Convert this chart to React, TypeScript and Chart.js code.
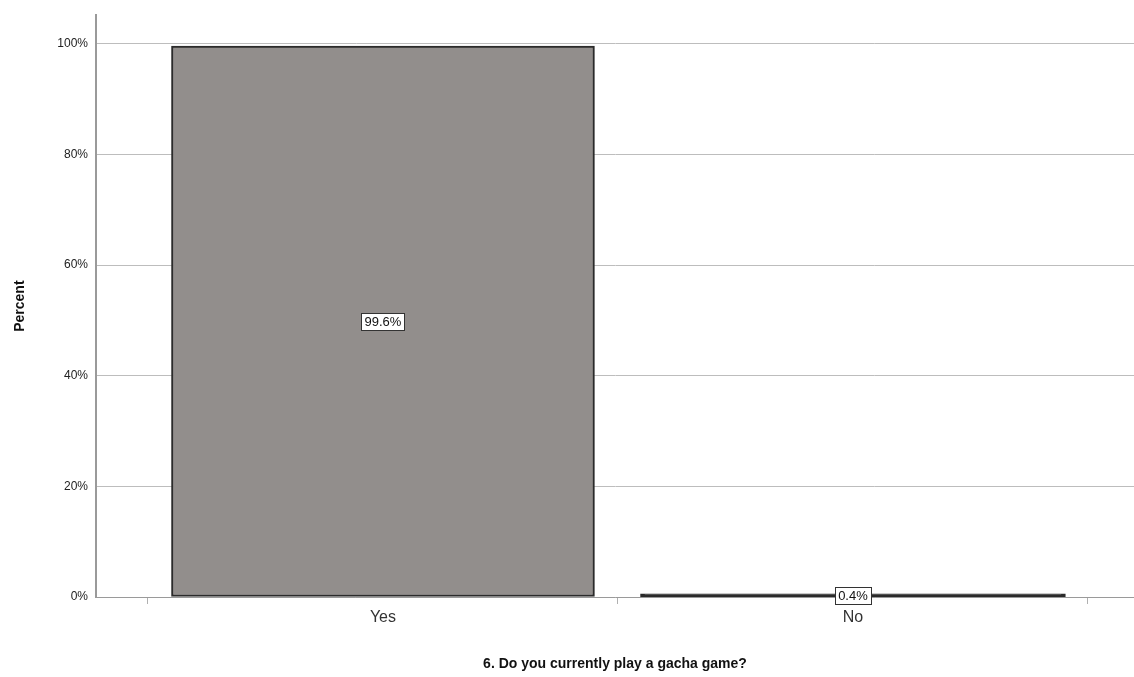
import React, { useEffect, useRef } from "react";
import { Chart, registerables } from "chart.js";

Chart.register(...registerables);

const categories = ["Yes", "No"];
const percentValues = [99.6, 0.4];
const yTickValues = [0, 20, 40, 60, 80, 100];
const xTitle = "6. Do you currently play a gacha game?";
const yTitle = "Percent";

const labelBoxPlugin = {
  id: "labelBoxes",
  afterDatasetsDraw(chart: any) {
    const ctx = chart.ctx;
    const meta = chart.getDatasetMeta(0);
    ctx.save();
    ctx.font = "13px 'Liberation Sans', Arial, sans-serif";
    ctx.textAlign = "center";
    ctx.textBaseline = "middle";
    meta.data.forEach((bar: any, i: number) => {
      const text = percentValues[i].toFixed(1) + "%";
      const cx = bar.x;
      const cy = (bar.y + bar.base) / 2;
      const w = Math.round(ctx.measureText(text).width + 6);
      const h = 17;
      const x0 = Math.round(cx - w / 2) + 0.5;
      const y0 = Math.round(cy - h / 2) + 0.5;
      ctx.fillStyle = "#ffffff";
      ctx.fillRect(x0, y0, w, h);
      ctx.strokeStyle = "#333333";
      ctx.lineWidth = 1;
      ctx.strokeRect(x0, y0, w, h);
      ctx.fillStyle = "#111111";
      ctx.fillText(text, cx, cy + 1);
    });
    ctx.restore();
  },
};

export default function App() {
  const ref = useRef<HTMLCanvasElement | null>(null);
  useEffect(() => {
    if (!ref.current) return;
    const isThin = (c: any) => c.raw && c.raw.y < 1;
    const chart = new Chart(ref.current, {
      type: "bar",
      data: {
        datasets: [
          {
            data: percentValues.map((v, i) => ({ x: i, y: v })),
            backgroundColor: (c: any) => (isThin(c) ? "#2b2b2b" : "#928e8c"),
            borderColor: "#2b2b2b",
            borderWidth: 2,
            borderSkipped: false,
            inflateAmount: (c: any) => (isThin(c) ? 1.3 : 0.33),
            barPercentage: 1.8,
            categoryPercentage: 1,
          },
        ],
      },
      options: {
        animation: false,
        responsive: false,
        maintainAspectRatio: false,
        layout: { padding: { top: 13, right: 0, left: 0, bottom: 0 } },
        plugins: { legend: { display: false }, tooltip: { enabled: false } },
        scales: {
          x: {
            type: "linear",
            offset: false,
            min: -0.6106,
            max: 1.598,
            afterBuildTicks: (scale: any) => {
              scale.ticks = [-0.5, 0, 0.5, 1, 1.5].map((v) => ({ value: v }));
            },
            afterFit: (scale: any) => {
              scale.height = 80;
            },
            grid: {
              offset: false,
              drawOnChartArea: false,
              tickLength: 7,
              tickColor: (c: any) =>
                c.tick && Number.isInteger(c.tick.value) ? "rgba(0,0,0,0)" : "#b0b0b0",
            },
            border: { display: true, color: "#9a9a9a", width: 1 },
            ticks: {
              autoSkip: false,
              maxRotation: 0,
              padding: 4,
              color: "#333333",
              font: { family: "'Liberation Sans', Arial, sans-serif", size: 16 },
              callback: (v: any) => {
                const n = Number(v);
                return Number.isInteger(n) ? categories[n] : "";
              },
            },
            title: {
              display: true,
              text: xTitle,
              color: "#111111",
              font: { family: "'Liberation Sans', Arial, sans-serif", size: 14, weight: "bold" },
              padding: { top: 4, bottom: 4 },
            },
          },
          y: {
            min: 0,
            max: 105.2,
            afterBuildTicks: (scale: any) => {
              scale.ticks = yTickValues.map((v) => ({ value: v }));
            },
            afterFit: (scale: any) => {
              scale.width = 96;
            },
            grid: { color: "#bdbdbd", drawTicks: false, lineWidth: 1 },
            border: { display: true, color: "#9a9a9a", width: 2 },
            ticks: {
              padding: 8,
              color: "#222222",
              font: { family: "'Liberation Sans', Arial, sans-serif", size: 12 },
              callback: (v: any) => v + "%",
            },
            title: {
              display: true,
              text: yTitle,
              color: "#111111",
              font: { family: "'Liberation Sans', Arial, sans-serif", size: 14, weight: "bold" },
              padding: { top: 12, bottom: 4 },
            },
          },
        },
      },
      plugins: [labelBoxPlugin],
    } as any);
    return () => chart.destroy();
  }, []);
  return (
    <div style={{ position: "fixed", left: 0, top: 0, width: 1134, height: 677, background: "#fff" }}>
      <canvas ref={ref} width={1134} height={677} style={{ width: 1134, height: 677 }} />
    </div>
  );
}
